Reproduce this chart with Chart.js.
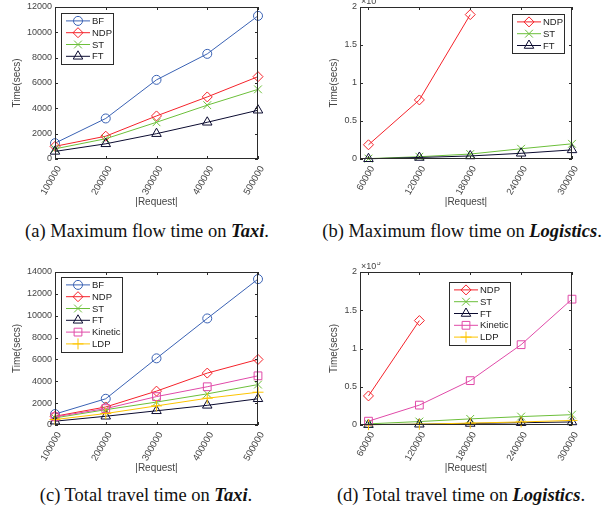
<!DOCTYPE html>
<html>
<head>
<meta charset="utf-8">
<script src="https://cdn.jsdelivr.net/npm/chart.js@4.4.1/dist/chart.umd.min.js"></script>
<style>
  body { margin: 0; width: 612px; height: 512px; background: #fff; position: relative; overflow: hidden; }
  canvas { position: absolute; }
  .cap { position: absolute; font-family: "Liberation Serif", "Times New Roman", serif; font-size: 18.5px; line-height: 20px;
         color: #111; white-space: nowrap; transform: translateX(-50%); }
  .cap b { font-style: italic; }
</style>
</head>
<body>
<canvas id="flowTaxi" width="306" height="215" style="left:0;top:0"></canvas>
<canvas id="flowLogi" width="306" height="215" style="left:306px;top:0"></canvas>
<canvas id="travelTaxi" width="306" height="219" style="left:0;top:262px"></canvas>
<canvas id="travelLogi" width="306" height="219" style="left:306px;top:262px"></canvas>

<div class="cap" style="left:147px;top:221px">(a) Maximum flow time on <b>Taxi</b>.</div>
<div class="cap" style="left:462px;top:221px">(b) Maximum flow time on <b>Logistics</b>.</div>
<div class="cap" style="left:146px;top:485px">(c) Total travel time on <b>Taxi</b>.</div>
<div class="cap" style="left:461px;top:485px">(d) Total travel time on <b>Logistics</b>.</div>

<script>
// x categories (|Request|)
const taxiRequests = [100000, 200000, 300000, 400000, 500000];
const logiRequests = [60000, 120000, 180000, 240000, 300000];

// (a) maximum flow time on Taxi
const flowTaxiBF  = [1250, 3200, 6250, 8300, 11300];
const flowTaxiNDP = [1000, 1800, 3400, 4900, 6500];
const flowTaxiST  = [800, 1600, 2900, 4250, 5500];
const flowTaxiFT  = [600, 1200, 2000, 2900, 3850];

// (b) maximum flow time on Logistics (NDP stops after 180000)
const flowLogiNDP = [18700, 77700, 190000];
const flowLogiST  = [500, 3000, 6500, 13500, 20000];
const flowLogiFT  = [300, 2000, 4000, 7500, 12000];

// (c) total travel time on Taxi
const travelTaxiBF      = [1000, 2400, 6100, 9750, 13350];
const travelTaxiNDP     = [800, 1650, 3100, 4750, 6000];
const travelTaxiST      = [650, 1400, 2100, 2850, 3700];
const travelTaxiFT      = [350, 800, 1300, 1800, 2400];
const travelTaxiKinetic = [750, 1500, 2600, 3500, 4500];
const travelTaxiLDP     = [500, 1050, 1750, 2450, 3000];

// (d) total travel time on Logistics (NDP stops after 120000)
const travelLogiNDP     = [38000, 136500];
const travelLogiST      = [1500, 4500, 8000, 11000, 13500];
const travelLogiFT      = [500, 1000, 2000, 3000, 4000];
const travelLogiKinetic = [5000, 26000, 58000, 105000, 164500];
const travelLogiLDP     = [500, 1000, 2500, 4000, 6000];

// tick values and labels
const flowTaxiYTicks   = [0, 2000, 4000, 6000, 8000, 10000, 12000];
const travelTaxiYTicks = [0, 2000, 4000, 6000, 8000, 10000, 12000, 14000];
const logiYTicks       = [0, 50000, 100000, 150000, 200000];
const logiYTickLabels  = ['0', '0.5', '1', '1.5', '2'];

// MATLAB-like line styles per method
const seriesStyle = {
    BF:      { color: '#3a62b4', marker: 'circle',   radius: 4.5 },
    NDP:     { color: '#f5222a', marker: 'rectRot',  radius: 5 },
    ST:      { color: '#6cbf3a', marker: 'crossRot', radius: 5.5 },
    FT:      { color: '#0b0b30', marker: 'triangle', radius: 5.5 },
    Kinetic: { color: '#e04aa8', marker: 'rect',     radius: 5.5 },
    LDP:     { color: '#fdc400', marker: 'cross',    radius: 5.5 }
};

const axisColor = '#2b2b2b';
const textColor = '#444';
const sansFont = 'Liberation Sans, Arial, sans-serif';

function makeDataset(label, xs, ys, index) {
    const s = seriesStyle[label];
    return {
        label: label,
        data: ys.map((v, i) => ({ x: xs[i], y: v })),
        borderColor: s.color,
        backgroundColor: 'rgba(0,0,0,0)',
        borderWidth: 1,
        pointStyle: s.marker,
        pointRadius: s.radius,
        pointBorderColor: s.color,
        pointBackgroundColor: 'rgba(0,0,0,0)',
        pointBorderWidth: 1,
        tension: 0,
        clip: false,
        order: -index // later series drawn on top, like MATLAB
    };
}

// Box around the plot with inward tick marks on all four sides
const matlabAxes = {
    id: 'matlabAxes',
    afterDatasetsDraw(chart, args, opts) {
        const { ctx, chartArea: a, scales } = chart;
        const tl = 3;
        ctx.save();
        ctx.strokeStyle = axisColor;
        ctx.lineWidth = 1;
        ctx.strokeRect(a.left + 0.5, a.top + 0.5, a.right - a.left - 1, a.bottom - a.top - 1);
        ctx.beginPath();
        scales.x.ticks.forEach(t => {
            const px = Math.round(scales.x.getPixelForValue(t.value)) + 0.5;
            ctx.moveTo(px, a.bottom); ctx.lineTo(px, a.bottom - tl);
            ctx.moveTo(px, a.top); ctx.lineTo(px, a.top + tl);
        });
        scales.y.ticks.forEach(t => {
            const py = Math.round(scales.y.getPixelForValue(t.value)) + 0.5;
            ctx.moveTo(a.left, py); ctx.lineTo(a.left + tl, py);
            ctx.moveTo(a.right, py); ctx.lineTo(a.right - tl, py);
        });
        ctx.stroke();
        if (opts.exponent) {
            ctx.fillStyle = textColor;
            ctx.textBaseline = 'alphabetic';
            ctx.textAlign = 'left';
            ctx.font = '9px ' + sansFont;
            ctx.fillText('\u00d710', a.left + 1, a.top - 3);
            const w = ctx.measureText('\u00d710').width;
            ctx.font = '7px ' + sansFont;
            ctx.fillText(opts.exponent, a.left + 1 + w + 0.5, a.top - 7);
        }
        ctx.restore();
    }
};

function drawMarker(ctx, style, radius, x, y) {
    if (Chart.helpers && Chart.helpers.drawPoint) {
        Chart.helpers.drawPoint(ctx, { pointStyle: style, radius: radius, rotation: 0, borderWidth: 1 }, x, y);
    }
}

// Legend box drawn inside the axes, MATLAB style
const matlabLegend = {
    id: 'matlabLegend',
    afterDraw(chart, args, opts) {
        const { ctx } = chart;
        const sets = chart.data.datasets;
        const rowH = 11.8;
        const x = opts.x, y = opts.y, w = opts.w;
        const h = sets.length * rowH + 4;
        ctx.save();
        ctx.fillStyle = '#fff';
        ctx.fillRect(x, y, w, h);
        ctx.strokeStyle = axisColor;
        ctx.lineWidth = 1;
        ctx.strokeRect(Math.round(x) + 0.5, Math.round(y) + 0.5, Math.round(w), Math.round(h));
        sets.forEach((ds, i) => {
            const cy = y + 2 + rowH * (i + 0.5);
            ctx.strokeStyle = ds.borderColor;
            ctx.fillStyle = 'rgba(0,0,0,0)';
            ctx.lineWidth = 1;
            ctx.beginPath();
            ctx.moveTo(x + 5, cy); ctx.lineTo(x + 29, cy);
            ctx.stroke();
            drawMarker(ctx, ds.pointStyle, ds.pointRadius, x + 17, cy);
            ctx.fillStyle = '#222';
            ctx.font = '9.5px ' + sansFont;
            ctx.textAlign = 'left';
            ctx.textBaseline = 'middle';
            ctx.fillText(ds.label, x + 31, cy + 0.5);
        });
        ctx.restore();
    }
};

function buildChart(id, panel, datasets, xTicks, yTicks, yLabels) {
    const cv = document.getElementById(id);
    const left = parseFloat(cv.style.left) || 0;
    const top = parseFloat(cv.style.top) || 0;
    const W = cv.width, H = cv.height;
    const a = panel.area;
    return new Chart(cv, {
        type: 'line',
        data: { datasets: datasets },
        options: {
            responsive: false,
            animation: false,
            events: [],
            layout: { padding: { left: 0, bottom: 0, top: a.t - top, right: left + W - a.r } },
            plugins: {
                legend: { display: false },
                tooltip: { enabled: false },
                matlabAxes: { exponent: panel.exponent },
                matlabLegend: { x: panel.legend.x - left, y: panel.legend.y - top, w: panel.legend.w }
            },
            scales: {
                x: {
                    type: 'linear',
                    min: panel.xMin,
                    max: panel.xMax,
                    afterBuildTicks: s => { s.ticks = xTicks.map(v => ({ value: v })); },
                    afterFit: s => {
                        s.height = top + H - a.b;
                        s.paddingLeft = 0; s.paddingRight = 0;
                    },
                    grid: { display: false, drawTicks: false },
                    border: { display: false },
                    ticks: {
                        autoSkip: false, minRotation: 60, maxRotation: 60,
                        padding: 5, labelOffset: 4,
                        color: textColor, font: { family: sansFont, size: 9.5 },
                        callback: v => String(v)
                    },
                    title: {
                        display: true, text: '|Request|', color: textColor,
                        font: { family: sansFont, size: 10 },
                        padding: { top: 0, bottom: 7 }
                    }
                },
                y: {
                    min: yTicks[0],
                    max: yTicks[yTicks.length - 1],
                    afterBuildTicks: s => { s.ticks = yTicks.map(v => ({ value: v })); },
                    afterFit: s => {
                        s.width = a.l - left;
                        s.paddingTop = 0; s.paddingBottom = 0;
                    },
                    grid: { display: false, drawTicks: false },
                    border: { display: false },
                    ticks: {
                        padding: 3, color: textColor, font: { family: sansFont, size: 9 },
                        callback: (v, i) => yLabels ? yLabels[i] : String(v)
                    },
                    title: {
                        display: true, text: 'Time(secs)', color: textColor,
                        font: { family: sansFont, size: 10 },
                        padding: { top: panel.yTitleX - left - 6, bottom: 0 }
                    }
                }
            }
        },
        plugins: [matlabAxes, matlabLegend]
    });
}

buildChart('flowTaxi', {
    area: { l: 55, t: 7, r: 258, b: 159 }, xMin: 100000, xMax: 500000,
    legend: { x: 61, y: 13, w: 52 }, yTitleX: 17
}, [
    makeDataset('BF', taxiRequests, flowTaxiBF, 0),
    makeDataset('NDP', taxiRequests, flowTaxiNDP, 1),
    makeDataset('ST', taxiRequests, flowTaxiST, 2),
    makeDataset('FT', taxiRequests, flowTaxiFT, 3)
], taxiRequests, flowTaxiYTicks, null);

buildChart('flowLogi', {
    area: { l: 360, t: 7, r: 572, b: 159 }, xMin: 50000, xMax: 300000,
    legend: { x: 512, y: 14, w: 52 }, yTitleX: 334, exponent: '5'
}, [
    makeDataset('NDP', logiRequests, flowLogiNDP, 0),
    makeDataset('ST', logiRequests, flowLogiST, 1),
    makeDataset('FT', logiRequests, flowLogiFT, 2)
], logiRequests, logiYTicks, logiYTickLabels);

buildChart('travelTaxi', {
    area: { l: 55, t: 272, r: 258, b: 425 }, xMin: 100000, xMax: 500000,
    legend: { x: 61, y: 277, w: 61 }, yTitleX: 17
}, [
    makeDataset('BF', taxiRequests, travelTaxiBF, 0),
    makeDataset('NDP', taxiRequests, travelTaxiNDP, 1),
    makeDataset('ST', taxiRequests, travelTaxiST, 2),
    makeDataset('FT', taxiRequests, travelTaxiFT, 3),
    makeDataset('Kinetic', taxiRequests, travelTaxiKinetic, 4),
    makeDataset('LDP', taxiRequests, travelTaxiLDP, 5)
], taxiRequests, travelTaxiYTicks, null);

buildChart('travelLogi', {
    area: { l: 360, t: 272, r: 572, b: 425 }, xMin: 50000, xMax: 300000,
    legend: { x: 449, y: 282, w: 61 }, yTitleX: 334, exponent: '5'
}, [
    makeDataset('NDP', logiRequests, travelLogiNDP, 0),
    makeDataset('ST', logiRequests, travelLogiST, 1),
    makeDataset('FT', logiRequests, travelLogiFT, 2),
    makeDataset('Kinetic', logiRequests, travelLogiKinetic, 3),
    makeDataset('LDP', logiRequests, travelLogiLDP, 4)
], logiRequests, logiYTicks, logiYTickLabels);
</script>
</body>
</html>
